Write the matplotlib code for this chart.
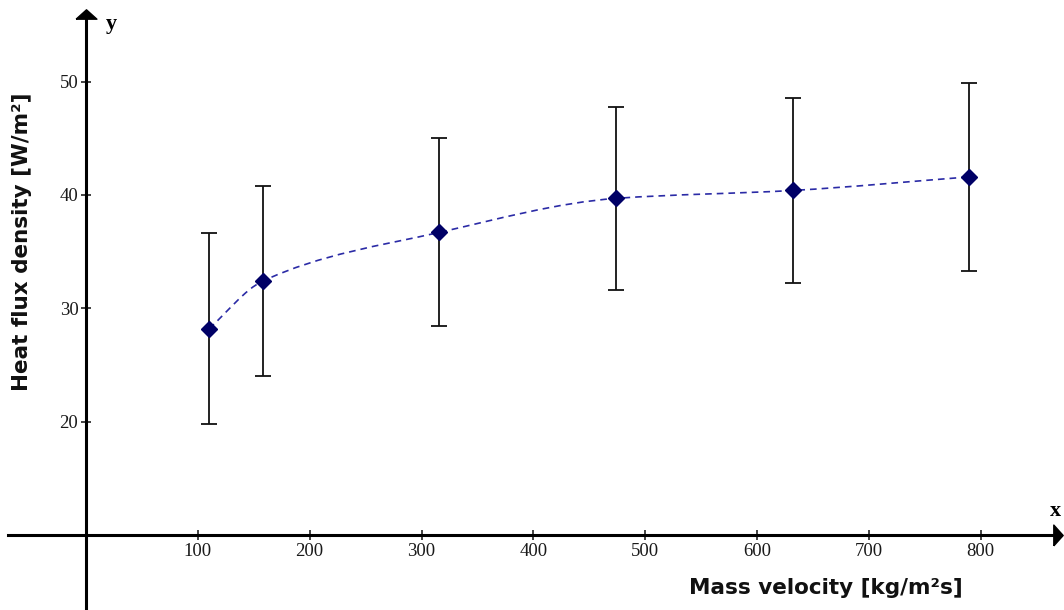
import numpy as np
import matplotlib.pyplot as plt
from matplotlib.path import Path
from matplotlib.patches import PathPatch

mass_velocity = [110, 158, 316, 474, 632, 790]
heat_flux = [28.2, 32.4, 36.7, 39.7, 40.4, 41.6]
flux_err = [8.45, 8.38, 8.3, 8.1, 8.15, 8.3]
x_ticks = [100, 200, 300, 400, 500, 600, 700, 800]
y_ticks = [20, 30, 40, 50]

fig = plt.figure(figsize=(10.64, 6.10), dpi=100)
ax = fig.add_axes([0, 0, 1, 1])
ax.set_xlim(-76.9, 874.5)
ax.set_ylim(3.37, 57.21)

# axes crossing at (0, 10)
for s in ['top', 'right']:
    ax.spines[s].set_visible(False)
ax.spines['left'].set_position(('data', 0))
ax.spines['bottom'].set_position(('data', 10))
ax.spines['left'].set_bounds(3.37, 55.6)
ax.spines['bottom'].set_bounds(-69.7, 866)
for s in ['left', 'bottom']:
    ax.spines[s].set_linewidth(2.2)
    ax.spines[s].set_color('black')

tri = [(-1, -0.45), (1, -0.45), (0, 0.45), (-1, -0.45)]
tri_r = [(-0.45, -1), (-0.45, 1), (0.45, 0), (-0.45, -1)]
ax.plot([0], [56.0], marker=tri, ms=15, color='black', clip_on=False)
ax.plot([869], [10], marker=tri_r, ms=15, color='black', clip_on=False)

ax.set_xticks(x_ticks)
ax.set_yticks(y_ticks)
ax.tick_params(direction='inout', length=7, width=1.2, color='#222222',
               labelsize=13.5, pad=2)
for lab in ax.get_xticklabels() + ax.get_yticklabels():
    lab.set_family('Liberation Serif')
    lab.set_color('#1a1a1a')

# smooth dashed curve through the points (monotone Hermite as Bezier)
xs = np.array(mass_velocity, float)
ys = np.array(heat_flux, float)
h = np.diff(xs)
d = np.diff(ys) / h
m = np.empty_like(ys)
m[0], m[-1] = d[0], d[-1]
for i in range(1, len(xs) - 1):
    w1 = 2 * h[i] + h[i - 1]
    w2 = h[i] + 2 * h[i - 1]
    m[i] = (w1 + w2) / (w1 / d[i - 1] + w2 / d[i])
verts = [(xs[0], ys[0])]
codes = [Path.MOVETO]
for i in range(len(xs) - 1):
    verts += [(xs[i] + h[i] / 3, ys[i] + m[i] * h[i] / 3),
              (xs[i + 1] - h[i] / 3, ys[i + 1] - m[i + 1] * h[i] / 3),
              (xs[i + 1], ys[i + 1])]
    codes += [Path.CURVE4] * 3
ax.add_patch(PathPatch(Path(verts, codes), fill=False, edgecolor='#2b2ba6',
                       lw=1.2, linestyle=(0, (4, 3))))

ax.errorbar(mass_velocity, heat_flux, yerr=flux_err, fmt='none',
            ecolor='#111111', elinewidth=1.3, capsize=5.5, capthick=1.3)
ax.plot(mass_velocity, heat_flux, 'D', ms=8, color='#000066',
        markeredgecolor='#000066', zorder=5)

fig.text(0.021, 0.603, 'Heat flux density [W/m²]', rotation=90, ha='center',
         va='center', fontsize=15.5, fontweight='bold', color='#111111')
fig.text(0.776, 0.036, 'Mass velocity [kg/m²s]', ha='center', va='center',
         fontsize=15.5, fontweight='bold', color='#111111')
fig.text(0.105, 0.96, 'y', ha='center', va='center', fontsize=16,
         fontweight='bold', family='Liberation Serif')
fig.text(0.992, 0.163, 'x', ha='center', va='center', fontsize=16,
         fontweight='bold', family='Liberation Serif')

fig.savefig('out.png', dpi=100)
